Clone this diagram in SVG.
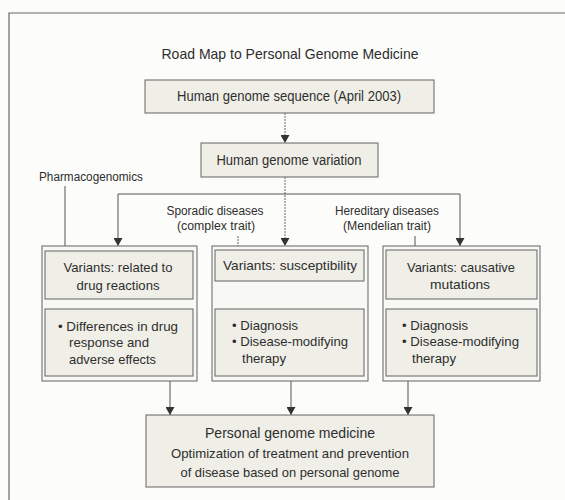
<svg xmlns="http://www.w3.org/2000/svg" width="565" height="500" viewBox="0 0 565 500">
<style>
text{font-family:"Liberation Sans",Arial,sans-serif;fill:#2e2e2e;}
.t{font-size:15px;}
.m{font-size:14px;}
.s{font-size:12.5px;}
.b{font-size:13.5px;}
.c{text-anchor:middle;}
.box{fill:#efeee7;stroke:#707070;stroke-width:1.1;}
.outer{fill:#f8f8f4;stroke:#707070;stroke-width:1.1;}
.ln{stroke:#555;stroke-width:1;fill:none;}
.dl{stroke:#666;stroke-width:1;fill:none;stroke-dasharray:2 1;}
.frame{stroke:#666;stroke-width:1.2;fill:none;}
</style>
<defs>
<marker id="ahd" markerWidth="8" markerHeight="9" refX="8" refY="4.5" orient="auto" markerUnits="userSpaceOnUse" viewBox="0 0 8 9">
<path d="M0,0 L8,4.5 L0,9 Z" fill="#333"/>
</marker>
</defs>
<rect width="565" height="500" fill="#fcfcfa"/>
<path class="frame" d="M9,500 V13 H565"/>
<text class="t c" x="290" y="59" textLength="257" lengthAdjust="spacingAndGlyphs">Road Map to Personal Genome Medicine</text>

<g id="connectors">
<path class="dl" d="M285,113 V143" marker-end="url(#ahd)"/>
<path class="dl" d="M285,177 V246" marker-end="url(#ahd)"/>
<path class="ln" d="M118,194 H460"/>
<path class="ln" d="M118,194 V246" marker-end="url(#ahd)"/>
<path class="ln" d="M460,194 V246" marker-end="url(#ahd)"/>
<path class="ln" d="M65,186 V246"/>
<path class="dl" d="M238,236 V246"/>
<path class="ln" d="M415,236 V246"/>
<path class="ln" d="M170,381 V415" marker-end="url(#ahd)"/>
<path class="ln" d="M291,381 V415" marker-end="url(#ahd)"/>
<path class="ln" d="M408,381 V415" marker-end="url(#ahd)"/>
</g>

<g id="sequence">
<rect class="box" x="145" y="80" width="289" height="33"/>
<text class="m c" x="289" y="101" textLength="224" lengthAdjust="spacingAndGlyphs">Human genome sequence (April 2003)</text>
</g>
<g id="variation">
<rect class="box" x="201" y="143" width="177" height="34"/>
<text class="m c" x="289" y="165" textLength="145" lengthAdjust="spacingAndGlyphs">Human genome variation</text>
</g>

<g id="label-pharmacogenomics">
<text class="s" x="39" y="181" textLength="104" lengthAdjust="spacingAndGlyphs">Pharmacogenomics</text>
</g>
<g id="label-sporadic">
<text class="s c" x="215" y="215" textLength="97" lengthAdjust="spacingAndGlyphs">Sporadic diseases</text>
<text class="s c" x="216" y="230" textLength="78" lengthAdjust="spacingAndGlyphs">(complex trait)</text>
</g>
<g id="label-hereditary">
<text class="s c" x="387" y="215" textLength="104" lengthAdjust="spacingAndGlyphs">Hereditary diseases</text>
<text class="s c" x="387" y="230" textLength="88" lengthAdjust="spacingAndGlyphs">(Mendelian trait)</text>
</g>

<g id="col-drug">
<rect class="outer" x="42" y="246" width="155" height="135"/>
<rect class="box" x="45" y="251" width="148" height="48"/>
<text class="b c" x="118" y="272" textLength="109" lengthAdjust="spacingAndGlyphs">Variants: related to</text>
<text class="b c" x="118" y="290" textLength="83" lengthAdjust="spacingAndGlyphs">drug reactions</text>
<rect class="box" x="45" y="309" width="148" height="67"/>
<text class="b" x="58" y="331" textLength="120" lengthAdjust="spacingAndGlyphs">• Differences in drug</text>
<text class="b" x="69" y="347" textLength="80" lengthAdjust="spacingAndGlyphs">response and</text>
<text class="b" x="69" y="364" textLength="87" lengthAdjust="spacingAndGlyphs">adverse effects</text>
</g>

<g id="col-susceptibility">
<rect class="outer" x="212" y="246" width="156" height="135"/>
<rect class="box" x="215" y="250" width="149" height="31"/>
<text class="b c" x="290" y="270" textLength="134" lengthAdjust="spacingAndGlyphs">Variants: susceptibility</text>
<rect class="box" x="215" y="309" width="149" height="67"/>
<text class="b" x="232" y="330" textLength="66" lengthAdjust="spacingAndGlyphs">• Diagnosis</text>
<text class="b" x="232" y="346" textLength="116" lengthAdjust="spacingAndGlyphs">• Disease-modifying</text>
<text class="b" x="242" y="363" textLength="44" lengthAdjust="spacingAndGlyphs">therapy</text>
</g>

<g id="col-causative">
<rect class="outer" x="383" y="246" width="157" height="135"/>
<rect class="box" x="386" y="250" width="151" height="49"/>
<text class="b c" x="461" y="272" textLength="108" lengthAdjust="spacingAndGlyphs">Variants: causative</text>
<text class="b c" x="460" y="289" textLength="60" lengthAdjust="spacingAndGlyphs">mutations</text>
<rect class="box" x="386" y="309" width="151" height="67"/>
<text class="b" x="402" y="330" textLength="66" lengthAdjust="spacingAndGlyphs">• Diagnosis</text>
<text class="b" x="402" y="346" textLength="117" lengthAdjust="spacingAndGlyphs">• Disease-modifying</text>
<text class="b" x="412" y="363" textLength="44" lengthAdjust="spacingAndGlyphs">therapy</text>
</g>

<g id="personal">
<rect class="box" x="146" y="415" width="288" height="72"/>
<text class="t c" x="290" y="438" textLength="170" lengthAdjust="spacingAndGlyphs">Personal genome medicine</text>
<text class="b c" x="290" y="458" textLength="238" lengthAdjust="spacingAndGlyphs">Optimization of treatment and prevention</text>
<text class="b c" x="290" y="477" textLength="219" lengthAdjust="spacingAndGlyphs">of disease based on personal genome</text>
</g>
</svg>
